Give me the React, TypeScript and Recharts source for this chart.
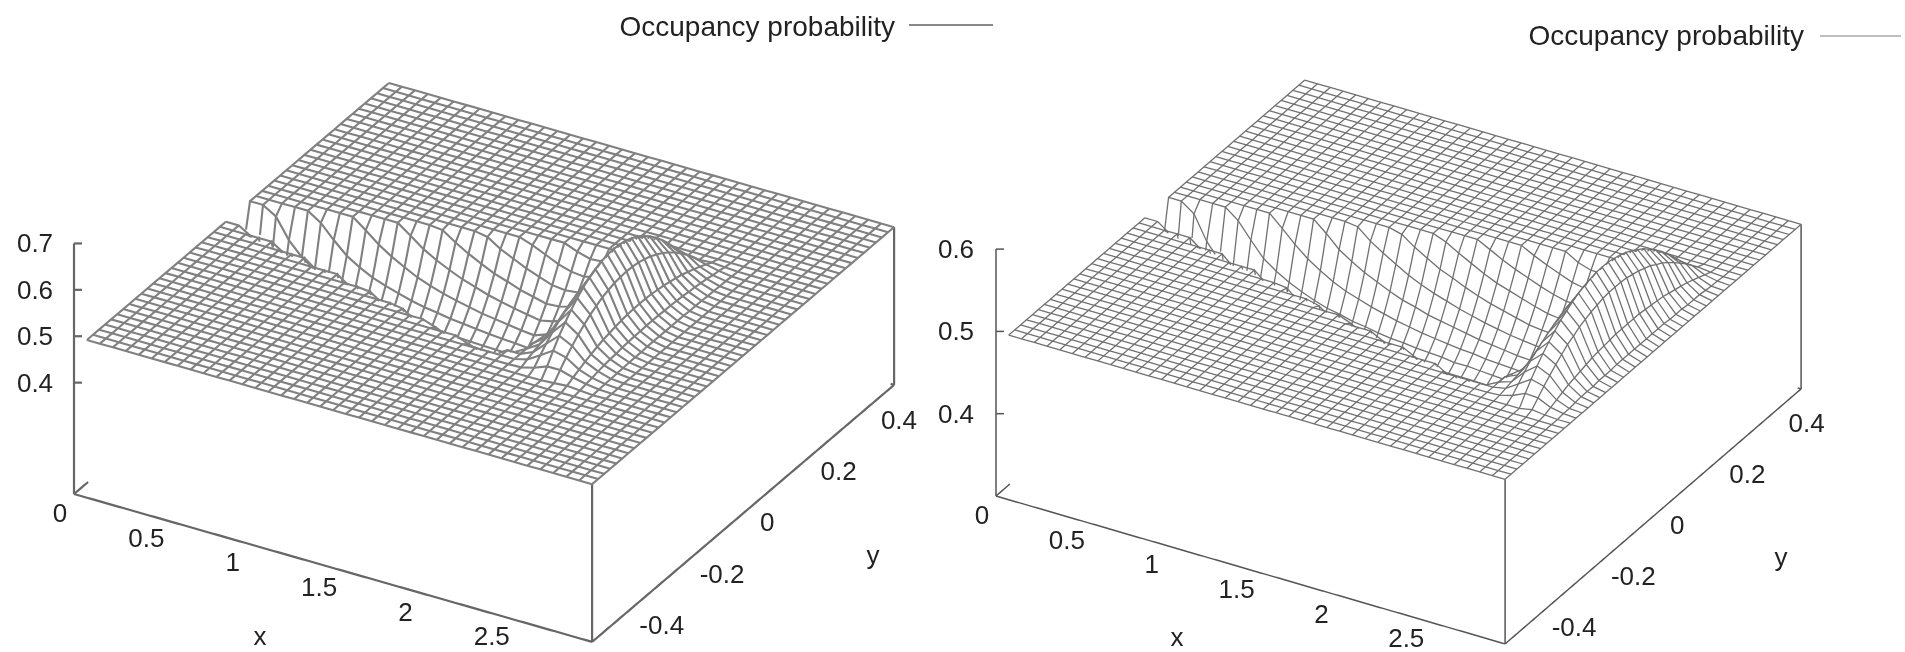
// App.tsx
// Two gnuplot style wireframe surfaces (occupancy probability of a range sensor).
// Recharts has no 3D, so grid points are projected to page units first and the
// hidden x/y axes of one ComposedChart map them to pixels.

import { ComposedChart, Line, Scatter, XAxis, YAxis } from 'recharts';

const WIDTH = 1905;
const HEIGHT = 652;

// Grid of the surface: rows along x, columns along y.
const xValues = Array.from({ length: 40 }, (_, i) => (i + 1) * 0.075);
const yValues = Array.from({ length: 51 }, (_, j) => -0.5 + j * 0.02);

const xTicks = [0.5, 1, 1.5, 2, 2.5];
const yTicks = [-0.4, -0.2, 0, 0.2, 0.4];
const xTickLabels = ['0', '0.5', '1', '1.5', '2', '2.5'];
const yTickLabels = ['-0.4', '-0.2', '0', '0.2', '0.4'];
const leftZTicks = [0.7, 0.6, 0.5, 0.4];
const rightZTicks = [0.6, 0.5, 0.4];

// Occupancy, in thousandths. One row per x value,
// the row starts at y = 0 and goes outwards, the cone is the same on both sides.
// Past the end of a row the value is the 0.5 prior.
const leftRows = [
    [320, 419, 500],
    [320, 382, 500],
    [320, 361, 483, 500],
    [320, 350, 440, 500],
    [320, 343, 411, 500],
    [320, 338, 392, 482, 500],
    [320, 335, 379, 453, 500],
    [320, 332, 368, 427, 500],
    [320, 330, 360, 410, 479, 500],
    [320, 328, 354, 396, 456, 500],
    [320, 327, 349, 386, 438, 500],
    [320, 326, 346, 378, 423, 480, 500],
    [320, 326, 342, 370, 409, 459, 500],
    [320, 325, 340, 364, 399, 443, 497, 500],
    [320, 324, 338, 360, 390, 430, 478, 500],
    [320, 324, 336, 355, 383, 418, 462, 500],
    [320, 324, 334, 352, 377, 409, 448, 495, 500],
    [320, 323, 333, 349, 371, 400, 435, 477, 500],
    [320, 323, 332, 346, 367, 393, 426, 464, 500],
    [320, 323, 331, 344, 363, 387, 416, 451, 490, 500],
    [320, 323, 330, 342, 359, 382, 409, 441, 478, 500],
    [320, 322, 329, 340, 356, 377, 402, 431, 465, 500],
    [335, 337, 343, 352, 366, 383, 404, 428, 457, 489, 500],
    [355, 357, 361, 369, 380, 394, 411, 431, 454, 481, 500],
    [385, 386, 390, 396, 404, 415, 428, 444, 462, 483, 500],
    [425, 426, 429, 433, 440, 448, 458, 470, 484, 500],
    [480, 480, 482, 484, 488, 492, 497, 500],
    [535, 535, 534, 532, 531, 528, 525, 521, 517, 512, 507, 501, 500],
    [600, 599, 597, 593, 588, 581, 573, 563, 551, 538, 524, 508, 500],
    [650, 649, 646, 640, 633, 623, 611, 597, 581, 563, 542, 519, 500],
    [610, 609, 607, 603, 598, 591, 583, 573, 562, 549, 535, 519, 502, 500],
    [548, 548, 547, 545, 543, 540, 537, 533, 528, 523, 517, 511, 504, 500],
    [520, 520, 519, 519, 518, 517, 515, 514, 512, 510, 507, 505, 502, 500],
    [505, 505, 505, 505, 504, 504, 504, 503, 503, 502, 502, 501, 500],
    [500],
    [500],
    [500],
    [500],
    [500],
    [500],
];

// Same layout for the right picture: shallower dip, obstacle further out.
const rightRows = [
    [380, 446, 500],
    [380, 422, 500],
    [380, 407, 489, 500],
    [380, 400, 460, 500],
    [380, 395, 441, 500],
    [380, 392, 428, 488, 500],
    [380, 390, 419, 469, 500],
    [380, 388, 412, 451, 500],
    [380, 387, 407, 440, 486, 500],
    [380, 386, 403, 431, 471, 500],
    [380, 385, 400, 424, 458, 500],
    [380, 384, 397, 418, 448, 487, 500],
    [380, 384, 395, 413, 439, 472, 500],
    [380, 383, 393, 410, 432, 462, 498, 500],
    [380, 383, 392, 406, 427, 453, 485, 500],
    [380, 383, 391, 404, 422, 446, 475, 500],
    [380, 382, 389, 401, 418, 439, 466, 496, 500],
    [380, 382, 389, 399, 414, 433, 457, 485, 500],
    [380, 382, 388, 398, 411, 429, 450, 476, 500],
    [380, 382, 387, 396, 408, 424, 444, 467, 494, 500],
    [380, 382, 387, 395, 406, 421, 439, 461, 485, 500],
    [380, 382, 386, 394, 404, 418, 434, 454, 477, 500],
    [380, 381, 385, 392, 402, 415, 430, 448, 469, 492, 500],
    [380, 381, 385, 392, 401, 412, 426, 443, 462, 484, 500],
    [380, 381, 385, 391, 399, 410, 423, 439, 457, 477, 500],
    [380, 381, 384, 390, 398, 408, 420, 435, 452, 471, 492, 500],
    [380, 381, 384, 389, 397, 406, 418, 431, 447, 465, 485, 500],
    [380, 381, 384, 389, 396, 405, 416, 429, 443, 460, 479, 500],
    [385, 386, 389, 393, 399, 407, 417, 428, 441, 456, 473, 491, 500],
    [395, 396, 398, 402, 407, 414, 422, 432, 443, 456, 470, 486, 500],
    [410, 411, 413, 416, 420, 426, 433, 441, 450, 461, 472, 486, 500],
    [437, 437, 439, 441, 444, 448, 453, 459, 466, 474, 483, 492, 500],
    [470, 470, 471, 473, 475, 478, 482, 486, 491, 497, 500],
    [515, 515, 515, 514, 514, 513, 512, 511, 510, 508, 507, 505, 503, 501, 500],
    [560, 560, 559, 557, 555, 552, 548, 544, 539, 534, 528, 521, 513, 505, 500],
    [585, 585, 583, 581, 578, 574, 569, 564, 557, 550, 542, 533, 523, 512, 500],
    [565, 565, 564, 562, 560, 557, 554, 549, 545, 539, 533, 526, 519, 511, 503, 500],
    [525, 525, 525, 524, 523, 522, 521, 519, 517, 515, 513, 510, 507, 504, 501, 500],
    [505, 505, 505, 505, 505, 504, 504, 504, 503, 503, 503, 502, 501, 501, 500],
    [500],
];

// View of each panel: screen vectors of the x, y and z axes in page units.
const leftView = { ox: 74, oy: 494, ax: 172.7, ay: 49.3, bx: 302, by: 257, c: 464, z0: 0.16 };
const rightView = { ox: 996, oy: 496, ax: 169.7, ay: 49.3, bx: 296, by: 255, c: 823, z0: 0.3 };

type View = typeof leftView;
type Pt3 = [number, number, number];
type Pt2 = { sx: number; sy: number | null };

function project(v: View, [x, y, z]: Pt3) {
    return {
        sx: v.ox + v.ax * x + v.bx * (y + 0.5),
        sy: v.oy + v.ay * x - v.by * (y + 0.5) - v.c * (z - v.z0),
    };
}

function height(rows: number[][], i: number, j: number): number {
    const row = rows[i];
    const k = Math.abs(j - 25);
    return (k < row.length ? row[k] : 500) / 1000;
}

// Surface height under a point, only used for the hidden line test.
function surfaceAt(rows: number[][], x: number, y: number): number {
    const fi = x / 0.075 - 1;
    const fj = (y + 0.5) / 0.02;
    if (fi < 0 || fi > 39 || fj < 0 || fj > 50) return -1;
    const i = Math.min(Math.floor(fi), 38);
    const j = Math.min(Math.floor(fj), 49);
    const a = fi - i;
    const b = fj - j;
    return (
        (1 - a) * (1 - b) * height(rows, i, j) +
        a * (1 - b) * height(rows, i + 1, j) +
        (1 - a) * b * height(rows, i, j + 1) +
        a * b * height(rows, i + 1, j + 1)
    );
}

// Walk from the point towards the viewer, hidden if the surface gets in the way.
function isVisible(v: View, rows: number[][], [x, y, z]: Pt3): boolean {
    const dy = -v.ax / v.bx;
    const dz = (v.ay - v.by * dy) / v.c;
    for (let s = 0.012; s < 3.2; s += 0.012) {
        const px = x + s;
        const py = y + dy * s;
        if (px > 3 || py < -0.5) return true;
        if (surfaceAt(rows, px, py) > z + dz * s + 0.0008) return false;
    }
    return true;
}

function lerp3(a: Pt3, b: Pt3, t: number): Pt3 {
    return [a[0] + (b[0] - a[0]) * t, a[1] + (b[1] - a[1]) * t, a[2] + (b[2] - a[2]) * t];
}

// Polyline to chart points, hidden stretches become gaps (null sy).
// Every piece is tested in short steps so a steep cell can end where it gets covered.
function toSeries(v: View, rows: number[][], pts: Pt3[], parts = 6): Pt2[] {
    const out: Pt2[] = [];
    let open = false;
    for (let k = 0; k < pts.length - 1; k++) {
        const a = pts[k];
        const b = pts[k + 1];
        for (let p = 0; p < parts; p++) {
            const shown = isVisible(v, rows, lerp3(a, b, (p + 0.5) / parts));
            if (shown && !open) {
                out.push(project(v, lerp3(a, b, p / parts)));
                open = true;
            } else if (!shown && open) {
                const end = project(v, lerp3(a, b, p / parts));
                out.push(end);
                out.push({ sx: end.sx, sy: null });
                open = false;
            }
        }
        if (open) out.push(project(v, b));
    }
    return out;
}

function edge(a: Pt3, b: Pt3, n = 150): Pt3[] {
    const pts: Pt3[] = [];
    for (let k = 0; k <= n; k++) pts.push(lerp3(a, b, k / n));
    return pts;
}

function meshSeries(v: View, rows: number[][]): Pt2[][] {
    const lines: Pt2[][] = [];
    xValues.forEach((x, i) => {
        lines.push(toSeries(v, rows, yValues.map((y, j): Pt3 => [x, y, height(rows, i, j)])));
    });
    yValues.forEach((y, j) => {
        lines.push(toSeries(v, rows, xValues.map((x, i): Pt3 => [x, y, height(rows, i, j)])));
    });
    return lines;
}

function frameSeries(v: View, rows: number[][], zTop: number, zTicks: number[]): Pt2[][] {
    const z0 = v.z0;
    const lines: Pt2[][] = [
        toSeries(v, rows, edge([0, -0.5, z0], [3, -0.5, z0]), 1),
        toSeries(v, rows, edge([3, -0.5, z0], [3, 0.5, z0]), 1),
        toSeries(v, rows, edge([3, 0.5, z0], [0, 0.5, z0]), 1),
        toSeries(v, rows, edge([0, 0.5, z0], [0, -0.5, z0]), 1),
        toSeries(v, rows, edge([0, -0.5, z0], [0, -0.5, zTop], 4), 1),
        toSeries(v, rows, edge([3, -0.5, z0], [3, -0.5, 0.5], 4), 1),
        toSeries(v, rows, edge([3, 0.5, z0], [3, 0.5, 0.5], 4), 1),
    ];
    xTicks.forEach((x) => {
        lines.push(toSeries(v, rows, edge([x, -0.5, z0], [x, -0.48, z0], 1), 1));
        lines.push(toSeries(v, rows, edge([x, 0.5, z0], [x, 0.48, z0], 1), 1));
    });
    yTicks.forEach((y) => {
        lines.push(toSeries(v, rows, edge([3, y, z0], [2.94, y, z0], 1), 1));
        lines.push(toSeries(v, rows, edge([0, y, z0], [0.06, y, z0], 1), 1));
    });
    zTicks.forEach((z) => {
        const p = project(v, [0, -0.5, z]);
        lines.push([p, { sx: p.sx + 8, sy: p.sy }]);
    });
    return lines;
}

type Label = { sx: number; sy: number; text: string; size: number; anchor: string };

function tickLabels(v: View, zTicks: number[], zLabelX: number, xName: Pt2, yName: Pt2): Label[] {
    const out: Label[] = [];
    xTickLabels.forEach((text) => {
        const p = project(v, [Number(text), -0.5, v.z0]);
        out.push({ sx: p.sx - 14, sy: p.sy + 19, text, size: 26, anchor: 'middle' });
    });
    yTickLabels.forEach((text) => {
        const p = project(v, [3, Number(text), v.z0]);
        out.push({ sx: p.sx + 17, sy: p.sy + 9, text, size: 26, anchor: 'start' });
    });
    zTicks.forEach((z) => {
        const p = project(v, [0, -0.5, z]);
        out.push({ sx: zLabelX, sy: p.sy, text: z.toFixed(1), size: 26, anchor: 'middle' });
    });
    out.push({ sx: xName.sx, sy: xName.sy as number, text: 'x', size: 26, anchor: 'middle' });
    out.push({ sx: yName.sx, sy: yName.sy as number, text: 'y', size: 26, anchor: 'middle' });
    return out;
}

const legendLabels: Label[] = [
    { sx: 895, sy: 26, text: 'Occupancy probability', size: 28, anchor: 'end' },
    { sx: 1804, sy: 35, text: 'Occupancy probability', size: 28, anchor: 'end' },
];

const leftMesh = meshSeries(leftView, leftRows);
const rightMesh = meshSeries(rightView, rightRows);
const leftFrame = frameSeries(leftView, leftRows, 0.7, leftZTicks);
const rightFrame = frameSeries(rightView, rightRows, 0.6, rightZTicks);
const labels = [
    ...tickLabels(leftView, leftZTicks, 35, { sx: 260, sy: 636 }, { sx: 873, sy: 555 }),
    ...tickLabels(rightView, rightZTicks, 956, { sx: 1177, sy: 637 }, { sx: 1781, sy: 557 }),
    ...legendLabels,
];

function LabelText(props: any) {
    const { cx, cy, payload } = props;
    return (
        <text
            x={cx}
            y={cy}
            textAnchor={payload.anchor}
            dominantBaseline="central"
            fontFamily="'Liberation Sans', sans-serif"
            fontSize={payload.size}
            fill="#222"
        >
            {payload.text}
        </text>
    );
}

function wire(data: Pt2[], key: string, stroke: string, width: number) {
    return (
        <Line
            key={key}
            data={data}
            dataKey="sy"
            stroke={stroke}
            strokeWidth={width}
            dot={false}
            activeDot={false}
            legendType="none"
            isAnimationActive={false}
        />
    );
}

export default function App() {
    return (
        <div style={{ position: 'absolute', left: 0, top: 0, background: '#fff', filter: 'blur(0.7px)' }}>
            <ComposedChart
                width={WIDTH}
                height={HEIGHT}
                margin={{ top: 0, right: 0, bottom: 0, left: 0 }}
            >
                <XAxis type="number" dataKey="sx" domain={[0, WIDTH]} hide allowDataOverflow />
                <YAxis type="number" dataKey="sy" domain={[0, HEIGHT]} reversed hide allowDataOverflow />

                {leftFrame.map((d, i) => wire(d, `lf${i}`, '#666', 2.2))}
                {rightFrame.map((d, i) => wire(d, `rf${i}`, '#555', 1.5))}
                {leftMesh.map((d, i) => wire(d, `lm${i}`, '#808080', 2.1))}
                {rightMesh.map((d, i) => wire(d, `rm${i}`, '#707070', 1.3))}

                {/* Legend samples */}
                {wire([{ sx: 909, sy: 25 }, { sx: 993, sy: 25 }], 'll', '#888', 2)}
                {wire([{ sx: 1820, sy: 36 }, { sx: 1901, sy: 36 }], 'rl', '#aaa', 1.6)}

                <Scatter data={labels} shape={LabelText} isAnimationActive={false} legendType="none" />
            </ComposedChart>
        </div>
    );
}
